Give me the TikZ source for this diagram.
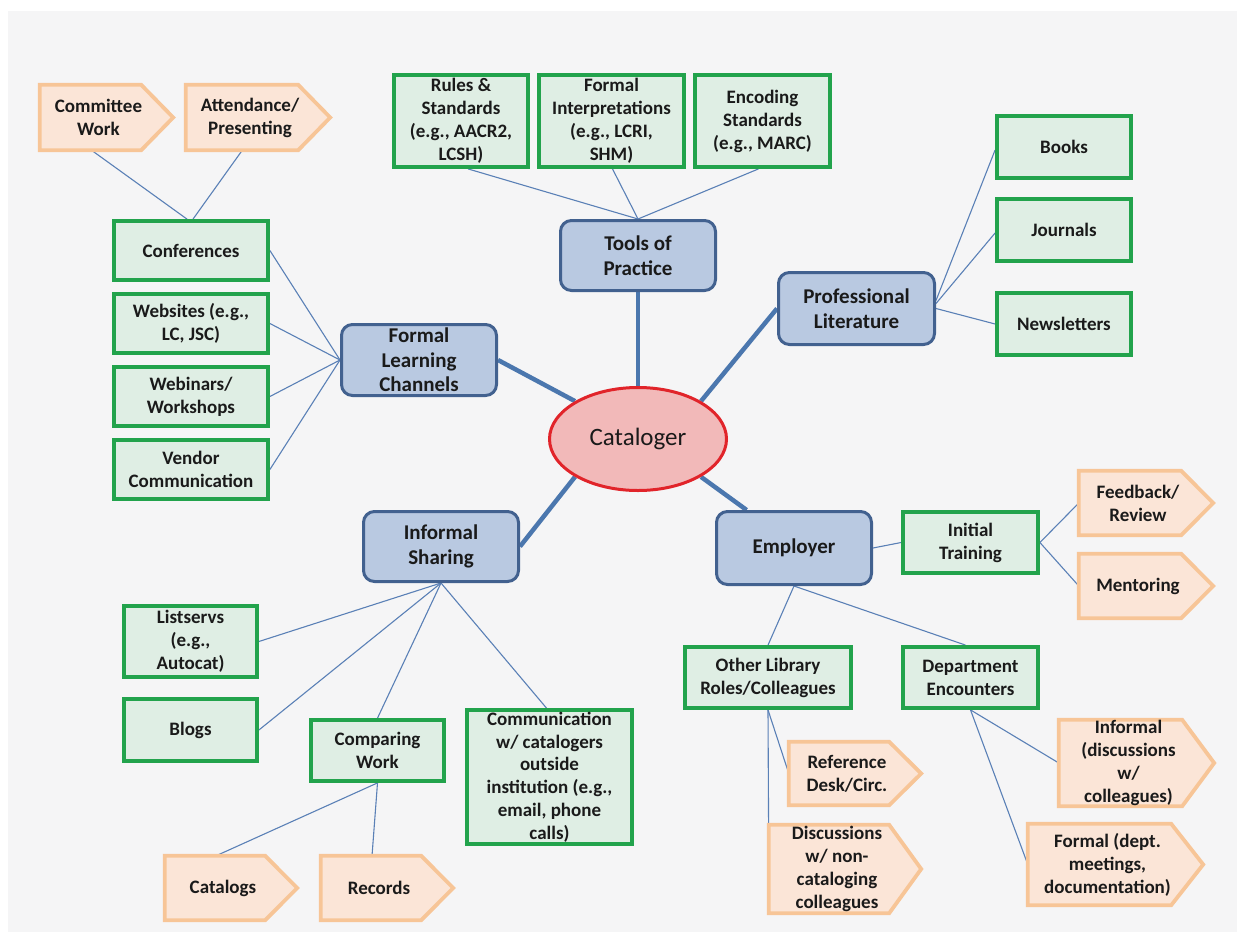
\documentclass[tikz,border=0pt]{standalone}
\usepackage{fontspec}
\setmainfont{Carlito}
\usetikzlibrary{calc,shapes.geometric}

\definecolor{bggrey}{HTML}{F5F5F6}
\definecolor{txt}{HTML}{1A1A1A}
\definecolor{grnline}{HTML}{22A34C}
\definecolor{grnfill}{HTML}{DFEEE4}
\definecolor{bluline}{HTML}{42618F}
\definecolor{blufill}{HTML}{B9C9E1}
\definecolor{orgline}{HTML}{F7C597}
\definecolor{orgfill}{HTML}{FBE5D7}
\definecolor{redline}{HTML}{E1242A}
\definecolor{redfill}{HTML}{F2B9B9}
\definecolor{linkthin}{HTML}{5A80B6}
\definecolor{linkthick}{HTML}{4B77AE}

\pgfdeclarelayer{paper}
\pgfdeclarelayer{links}
\pgfdeclarelayer{tags}
\pgfsetlayers{paper,links,tags,main}

\tikzset{
  greenbox/.style={draw=grnline, fill=grnfill, line width=3.8pt, inner sep=0pt,
    align=center, text=txt, font=\fontsize{19}{23}\bfseries\selectfont},
  bluebox/.style={draw=bluline, fill=blufill, line width=3pt, rounded corners=11pt,
    inner sep=0pt, align=center, text=txt, font=\fontsize{21}{24.5}\bfseries\selectfont},
  centre/.style={ellipse, draw=redline, fill=redfill, line width=3pt, inner sep=0pt,
    text=txt, font=\fontsize{25}{29}\selectfont},
  tagtext/.style={inner sep=0pt, align=center, text=txt,
    font=\fontsize{19}{23}\bfseries\selectfont},
  tagshape/.style={draw=orgline, fill=orgfill, line width=3.8pt, line join=miter},
  thinlink/.style={draw=linkthin, line width=1.1pt},
  thicklink/.style={draw=linkthick, line width=4.5pt},
}

% pentagon-shaped tag: name, left, top, tip, bottom, text
\newcommand\tagnode[6]{%
  \node[tagtext, minimum width={#4-16-#2}, minimum height={#5-#3}]
    (#1) at ({(#2+#4-16)/2},{(#3+#5)/2}) {#6};
  \begin{pgfonlayer}{tags}
    \draw[tagshape] (#1.north west) -- ([xshift=-16pt]#1.north east)
      -- ([xshift=16pt]#1.east) -- ([xshift=-16pt]#1.south east)
      -- (#1.south west) -- cycle;
  \end{pgfonlayer}}

\begin{document}
\begin{tikzpicture}[x=1pt,y=-1pt]
\useasboundingbox (0,0) rectangle (1245,940);
\begin{pgfonlayer}{paper}
  \fill[white] (0,0) rectangle (1245,940);
  \fill[bggrey] (8,11) rectangle (1237,932);
\end{pgfonlayer}

% centre
\node[centre, minimum width=177, minimum height=103] (cat) at (638,439) {Cataloger};

% main branches
\node[bluebox, minimum width=155, minimum height=71] (flc) at (419,360) {Formal\\Learning\\Channels};
\node[bluebox, minimum width=155, minimum height=70] (tools) at (638,255.5) {Tools of\\Practice};
\node[bluebox, minimum width=156, minimum height=72] (prof) at (856.5,308.5) {Professional\\Literature};
\node[bluebox, minimum width=155, minimum height=70] (inf) at (441,546.5) {Informal\\Sharing};
\node[bluebox, minimum width=155, minimum height=73] (emp) at (794,548) {Employer};

% tools of practice
\node[greenbox, minimum width=134, minimum height=92] (rules) at (461,121) {Rules \&\\Standards\\(e.g., AACR2,\\LCSH)};
\node[greenbox, minimum width=145, minimum height=92] (interp) at (611.5,121) {Formal\\Interpretations\\(e.g., LCRI,\\SHM)};
\node[greenbox, minimum width=135, minimum height=92] (enc) at (762.5,121) {Encoding\\Standards\\(e.g., MARC)};

% professional literature
\node[greenbox, minimum width=134, minimum height=62] (books) at (1064,147) {Books};
\node[greenbox, minimum width=134, minimum height=62] (journals) at (1064,230) {Journals};
\node[greenbox, minimum width=134, minimum height=62] (news) at (1064,324) {Newsletters};

% formal learning channels
\node[greenbox, minimum width=154, minimum height=59] (conf) at (191,250.5) {Conferences};
\node[greenbox, minimum width=154, minimum height=59] (web) at (191,323.5) {Websites (e.g.,\\LC, JSC)};
\node[greenbox, minimum width=154, minimum height=59] (webinar) at (191,396.5) {Webinars/\\Workshops};
\node[greenbox, minimum width=154, minimum height=59] (vendor) at (191,469.5) {Vendor\\Communication};
\tagnode{committee}{40}{85}{173}{150}{Committee\\Work}
\tagnode{attend}{186}{85}{330}{150}{Attendance/\\Presenting}

% informal sharing
\node[greenbox, minimum width=133, minimum height=71] (lists) at (190.5,641.5) {Listservs\\(e.g.,\\Autocat)};
\node[greenbox, minimum width=133, minimum height=62] (blogs) at (190.5,730) {Blogs};
\node[greenbox, minimum width=133, minimum height=61] (compare) at (377.5,750.5) {Comparing\\Work};
\node[greenbox, minimum width=165, minimum height=134, font=\fontsize{19}{22.8}\bfseries\selectfont] (comm) at (549.5,777) {Communication\\w/ catalogers\\outside\\institution (e.g.,\\email, phone\\calls)};
\tagnode{catalogs}{165}{856}{297}{920}{Catalogs}
\tagnode{records}{321}{856}{453}{920}{Records}

% employer
\node[greenbox, minimum width=135, minimum height=61] (train) at (970.5,542.5) {Initial\\Training};
\node[greenbox, minimum width=166, minimum height=61] (other) at (768,677.5) {Other Library\\Roles/Colleagues};
\node[greenbox, minimum width=135, minimum height=61] (dept) at (970.5,677.5) {Department\\Encounters};
\tagnode{feedback}{1079}{471}{1213}{535}{Feedback/\\Review}
\tagnode{mentor}{1079}{554}{1213}{618}{Mentoring}
\tagnode{refdesk}{789}{742}{921}{805}{Reference\\Desk/Circ.}
\tagnode{discuss}{769}{825}{921}{913}{Discussions\\w/ non-\\cataloging\\colleagues}
\tagnode{infdisc}{1059}{720}{1214}{806}{Informal\\(discussions\\w/\\colleagues)}
\tagnode{formdisc}{1028}{824}{1203}{905}{Formal (dept.\\meetings,\\documentation)}

\begin{pgfonlayer}{links}
  % thick links from the centre
  \draw[thicklink] (cat.149) -- (flc.east);
  \draw[thicklink] (cat.north) -- (tools.south);
  \draw[thicklink] (cat.31) -- (prof.west);
  \draw[thicklink] (cat.211) -- (inf.east);
  \draw[thicklink] (cat.-31) -- ($(emp.north west)!0.2!(emp.north east)$);
  % tools of practice
  \draw[thinlink] ([xshift=7pt]rules.south) -- (tools.north);
  \draw[thinlink] ([xshift=1pt]interp.south) -- (tools.north);
  \draw[thinlink] ([xshift=-4pt]enc.south) -- (tools.north);
  % professional literature
  \draw[thinlink] ([yshift=8pt]prof.east) -- ([yshift=-3pt]books.west);
  \draw[thinlink] ([yshift=5pt]prof.east) -- ([yshift=-3pt]journals.west);
  \draw[thinlink] (prof.east) -- (news.west);
  % formal learning channels
  \draw[thinlink] (conf.east) -- (flc.west);
  \draw[thinlink] (web.east) -- (flc.west);
  \draw[thinlink] (webinar.east) -- (flc.west);
  \draw[thinlink] (vendor.east) -- (flc.west);
  \draw[thinlink] ($(committee.south west)!0.44!(committee.south east)$) -- ([xshift=-4pt]conf.north);
  \draw[thinlink] ($(attend.south west)!0.44!(attend.south east)$) -- ([xshift=2pt]conf.north);
  % informal sharing
  \draw[thinlink] (inf.south) -- (lists.east);
  \draw[thinlink] (inf.south) -- (blogs.east);
  \draw[thinlink] (inf.south) -- (compare.north);
  \draw[thinlink] (inf.south) -- ([xshift=-3pt]comm.north);
  \draw[thinlink] (compare.south) -- ($(catalogs.north west)!0.44!(catalogs.north east)$);
  \draw[thinlink] (compare.south) -- ($(records.north west)!0.44!(records.north east)$);
  % employer
  \draw[thinlink] (emp.east) -- (train.west);
  \draw[thinlink] (train.east) -- (feedback.west);
  \draw[thinlink] (train.east) -- (mentor.west);
  \draw[thinlink] (emp.south) -- (other.north);
  \draw[thinlink] (emp.south) -- ([xshift=-5pt]dept.north);
  \draw[thinlink] (dept.south) -- (infdisc.west);
  \draw[thinlink] (dept.south) -- (formdisc.west);
  \draw[thinlink] (other.south) -- (refdesk.west);
  \draw[thinlink] (other.south) -- (discuss.west);
\end{pgfonlayer}
\end{tikzpicture}
\end{document}
